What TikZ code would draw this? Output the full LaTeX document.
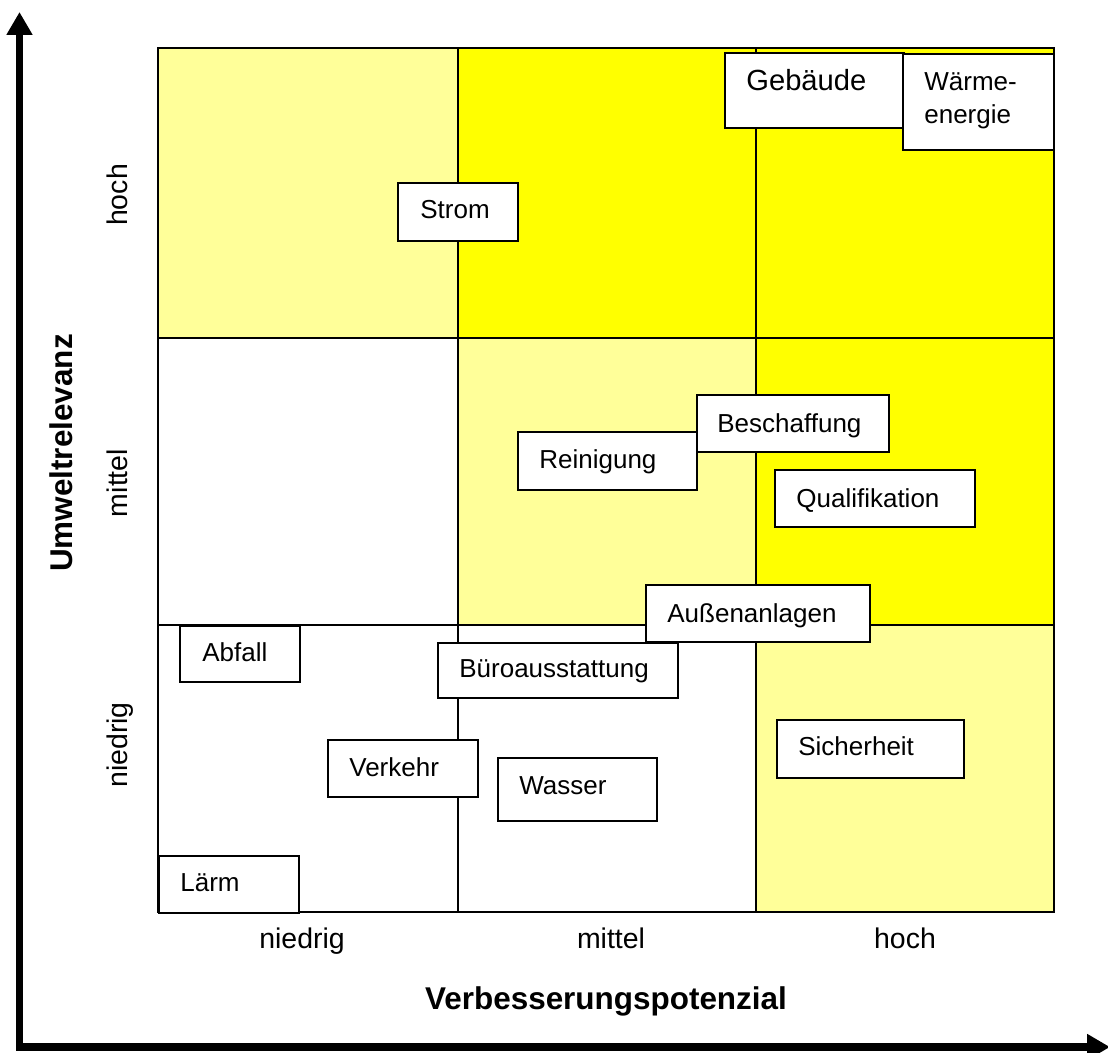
\documentclass[tikz,border=0pt]{standalone}
\usepackage{fontspec}
\setmainfont{Liberation Sans}
\usetikzlibrary{arrows.meta,fit}
\definecolor{lightyel}{HTML}{FFFF99}
\definecolor{yel}{HTML}{FFFF00}
\begin{document}
\begin{tikzpicture}[x=0.02cm,y=-0.02cm,
  box/.style={draw=black, fill=white, line width=1.1pt, inner sep=0pt},
  lbl/.style={font=\fontsize{14.8}{17.7}\selectfont, inner sep=0pt, anchor=base west},
  biglbl/.style={font=\fontsize{16.6}{19.5}\selectfont, inner sep=0pt, anchor=base west},
  tick/.style={font=\fontsize{16.2}{19}\selectfont, inner sep=0pt, anchor=base},
  axtitle/.style={font=\bfseries\fontsize{17.9}{21}\selectfont, inner sep=0pt, anchor=base},
  gridline/.style={line width=1.5pt},
  axis/.style={line width=4.3pt, line join=miter,
    {Triangle[length=13pt,width=14pt]}-{Triangle[length=13pt,width=14pt]}}]
\useasboundingbox (0,0) rectangle (1108,1052);

% cells
\fill[lightyel] (158,48) rectangle (458,338);
\fill[yel] (458,48) rectangle (1054,338);
\fill[lightyel] (458,338) rectangle (756,625);
\fill[yel] (756,338) rectangle (1054,625);
\fill[lightyel] (756,625) rectangle (1054,912);

% grid
\draw[line width=1.2pt] (158,48) rectangle (1054,912);
\draw[gridline] (458,48) -- (458,912);
\draw[gridline] (756,48) -- (756,912);
\draw[gridline] (158,338) -- (1054,338);
\draw[gridline] (158,625) -- (1054,625);

% axes
\coordinate (ytip) at (19.5,12);
\coordinate (corner) at (19.5,1047);
\coordinate (xtip) at (1110,1047);
\draw[axis] (ytip) -- (corner) -- (xtip);

% axis labels
\node[tick] (xn) at (302,948) {niedrig};
\node[tick] (xm) at (611,948) {mittel};
\node[tick] (xh) at (905,948) {hoch};
\node[axtitle] (xt) at (606,1009) {Verbesserungspotenzial};
\node[tick, rotate=90] (yh) at (127,195) {hoch};
\node[tick, rotate=90] (ym) at (127,483) {mittel};
\node[tick, rotate=90] (yn) at (127,745) {niedrig};
\node[axtitle, rotate=90] (yt) at (72,453) {Umweltrelevanz};

% boxes
\node[box, fit={(725,53) (904,128)}] (geb) {};
\node[biglbl] (gebT) at (746,90) {Gebäude};
\node[box, fit={(903,54) (1054,150)}] (waerme) {};
\node[lbl] (waermeT1) at (924,90) {Wärme-};
\node[lbl] (waermeT2) at (924,123) {energie};

\node[box, fit={(398,183) (518,241)}] (strom) {};
\node[lbl] (stromT) at (420,218) {Strom};

\node[box, fit={(518,432) (697,490)}] (rein) {};
\node[lbl] (reinT) at (539,468) {Reinigung};
\node[box, fit={(697,395) (889,452)}] (besch) {};
\node[lbl] (beschT) at (717,432) {Beschaffung};
\node[box, fit={(775,470) (975,527)}] (quali) {};
\node[lbl] (qualiT) at (796,507) {Qualifikation};

\node[box, fit={(180,626) (300,682)}] (abfall) {};
\node[lbl] (abfallT) at (202,661) {Abfall};
\node[box, fit={(438,643) (678,698)}] (buero) {};
\node[lbl] (bueroT) at (459,677) {Büroausstattung};
\node[box, fit={(646,585) (870,642)}] (aussen) {};
\node[lbl] (aussenT) at (667,622) {Außenanlagen};

\node[box, fit={(328,740) (478,797)}] (verkehr) {};
\node[lbl] (verkehrT) at (349,776) {Verkehr};
\node[box, fit={(498,758) (657,821)}] (wasser) {};
\node[lbl] (wasserT) at (519,794) {Wasser};
\node[box, fit={(159,856) (299,913)}] (laerm) {};
\node[lbl] (laermT) at (180,891) {Lärm};
\node[box, fit={(777,720) (964,778)}] (sicher) {};
\node[lbl] (sicherT) at (798,755) {Sicherheit};
\end{tikzpicture}
\end{document}
